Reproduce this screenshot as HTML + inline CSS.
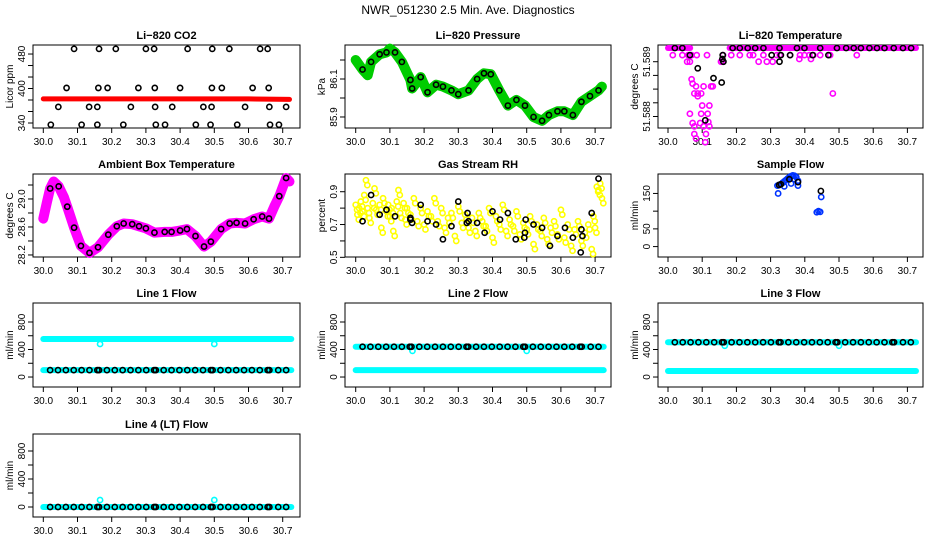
<!DOCTYPE html>
<html><head><meta charset="utf-8">
<style>
body{margin:0;background:#fff;width:936px;height:540px;overflow:hidden}
svg{display:block;font-family:"Liberation Sans",sans-serif}
</style></head>
<body>
<svg id="c" width="936" height="540" xmlns="http://www.w3.org/2000/svg">
<text x="468" y="14" text-anchor="middle" font-size="12">NWR_051230  2.5 Min. Ave. Diagnostics</text>
</svg>
<script>
// ---- data ----
const xTicks=[30.0,30.1,30.2,30.3,30.4,30.5,30.6,30.7];
const co2RedX=[30.0,30.2,30.4,30.6,30.72];
const co2RedY=[382,382,382,382,381];
const co2BlackX=[30.09,30.163,30.212,30.30,30.324,30.422,30.494,30.544,30.634,30.656,30.068,30.161,30.188,30.278,30.326,30.40,30.493,30.522,30.612,30.659,30.044,30.134,30.158,30.256,30.327,30.377,30.468,30.492,30.59,30.661,30.71,30.022,30.112,30.158,30.234,30.329,30.356,30.446,30.489,30.567,30.663,30.689];
const co2BlackY=[469,469,469,469,469,469,469,469,469,469,401,401,401,401,401,401,401,401,401,401,368,368,368,368,368,368,368,368,368,368,368,337,337,337,337,337,337,337,337,337,337,337];
const presX=[30.0,30.02,30.035,30.045,30.07,30.09,30.1,30.115,30.135,30.16,30.165,30.19,30.21,30.235,30.255,30.28,30.3,30.33,30.355,30.375,30.395,30.42,30.445,30.47,30.495,30.52,30.545,30.565,30.59,30.61,30.635,30.66,30.685,30.71,30.72];
const presY=[86.2,86.15,86.12,86.19,86.23,86.24,86.26,86.24,86.19,86.095,86.05,86.11,86.03,86.07,86.06,86.04,86.02,86.04,86.1,86.13,86.125,86.04,85.96,85.99,85.96,85.9,85.88,85.91,85.93,85.93,85.91,85.98,86.01,86.04,86.06];
const presBlackIdx=[1,3,4,5,7,8,9,10,11,12,13,14,15,16,17,18,19,20,21,22,23,24,25,26,27,28,29,30,31,32,33];
const tempTopX1=[30.0,30.065];const tempTopX2=[30.18,30.725];
const tempTopY=51.58925;
const tempMagX=[30.014,30.059,30.069,30.084,30.114,30.161,30.185,30.21,30.239,30.249,30.279,30.318,30.327,30.357,30.386,30.425,30.445,30.474,30.552,30.042,30.056,30.064,30.072,30.069,30.077,30.082,30.087,30.064,30.072,30.077,30.097,30.094,30.104,30.1,30.097,30.116,30.118,30.121,30.077,30.082,30.111,30.109,30.087,30.104,30.126,30.131,30.121,30.155,30.16,30.265,30.289,30.306,30.384,30.399,30.413,30.418,30.482];
const tempMagY=[51.58912,51.58912,51.58912,51.58912,51.58912,51.58912,51.58912,51.58912,51.58912,51.58912,51.58912,51.58912,51.58912,51.58912,51.58912,51.58912,51.58912,51.58912,51.58912,51.58912,51.589,51.589,51.5886,51.58868,51.58842,51.58855,51.58837,51.58805,51.58788,51.58782,51.58805,51.58788,51.58782,51.5882,51.58842,51.58805,51.5879,51.58782,51.58768,51.58760,51.58768,51.58753,51.58842,51.58855,51.58855,51.58855,51.5882,51.589,51.589,51.589,51.589,51.589,51.58905,51.58912,51.58912,51.58905,51.58842];
const tempBlackX=[30.02,30.042,30.189,30.21,30.233,30.255,30.279,30.326,30.377,30.399,30.445,30.494,30.521,30.543,30.564,30.589,30.611,30.633,30.66,30.687,30.711,30.064,30.16,30.303,30.33,30.357,30.423,30.469,30.087,30.133,30.109,30.159,30.162,30.157,30.326];
const tempBlackY=[51.58925,51.58925,51.58925,51.58925,51.58925,51.58925,51.58925,51.58925,51.58925,51.58925,51.58925,51.58925,51.58925,51.58925,51.58925,51.58925,51.58925,51.58925,51.58925,51.58925,51.58925,51.58912,51.58912,51.58912,51.58912,51.58912,51.58912,51.58912,51.58888,51.5887,51.58793,51.58905,51.589,51.58862,51.589];
const ambX=[30.0,30.01,30.02,30.03,30.045,30.06,30.07,30.09,30.11,30.135,30.16,30.19,30.215,30.235,30.26,30.28,30.3,30.325,30.355,30.375,30.4,30.42,30.445,30.47,30.49,30.52,30.545,30.565,30.59,30.615,30.64,30.66,30.675,30.69,30.71,30.72];
const ambY=[28.72,28.94,29.15,29.25,29.18,29.03,28.89,28.59,28.33,28.23,28.31,28.49,28.61,28.65,28.64,28.61,28.58,28.52,28.53,28.53,28.55,28.57,28.47,28.32,28.39,28.57,28.65,28.66,28.65,28.71,28.75,28.72,28.89,29.04,29.3,29.25];
const ambBlackIdx=[2,4,6,7,8,9,10,11,12,13,14,15,16,17,18,19,20,21,22,23,24,25,26,27,28,29,30,31,33,34];
const rhYelX=[30.0,30.005,30.01,30.015,30.02,30.025,30.03,30.035,30.04,30.05,30.055,30.06,30.07,30.075,30.08,30.09,30.095,30.1,30.105,30.11,30.12,30.125,30.13,30.14,30.145,30.15,30.16,30.17,30.18,30.19,30.2,30.21,30.22,30.23,30.24,30.25,30.26,30.27,30.28,30.29,30.3,30.31,30.32,30.33,30.34,30.35,30.36,30.37,30.38,30.39,30.4,30.41,30.42,30.43,30.44,30.45,30.46,30.47,30.48,30.49,30.5,30.51,30.52,30.53,30.54,30.55,30.56,30.57,30.58,30.59,30.6,30.61,30.62,30.63,30.64,30.65,30.66,30.67,30.68,30.69,30.695,30.7,30.705,30.71,30.715,30.72];
const rhYelY=[0.82,0.76,0.8,0.84,0.78,0.88,0.97,0.8,0.74,0.83,0.92,0.79,0.82,0.68,0.86,0.78,0.82,0.75,0.8,0.66,0.84,0.91,0.77,0.83,0.73,0.8,0.76,0.86,0.72,0.8,0.7,0.78,0.75,0.86,0.72,0.8,0.68,0.74,0.77,0.63,0.81,0.71,0.76,0.68,0.74,0.66,0.77,0.72,0.69,0.8,0.62,0.75,0.7,0.82,0.66,0.73,0.69,0.78,0.64,0.71,0.67,0.75,0.58,0.7,0.66,0.74,0.61,0.68,0.72,0.64,0.79,0.62,0.7,0.57,0.67,0.72,0.6,0.65,0.7,0.55,0.75,0.68,0.93,0.91,0.95,0.86];
const rhBlackX=[30.02,30.045,30.07,30.09,30.115,30.16,30.16,30.165,30.19,30.21,30.235,30.255,30.28,30.3,30.325,30.327,30.33,30.355,30.377,30.4,30.422,30.445,30.468,30.493,30.495,30.497,30.52,30.545,30.568,30.59,30.612,30.635,30.658,30.66,30.663,30.69,30.71];
const rhBlackY=[0.72,0.88,0.76,0.79,0.75,0.74,0.73,0.71,0.82,0.72,0.70,0.61,0.69,0.84,0.71,0.77,0.72,0.71,0.65,0.78,0.73,0.77,0.61,0.62,0.65,0.73,0.70,0.68,0.57,0.63,0.68,0.62,0.53,0.67,0.63,0.77,0.98];
const sfBlueX=[30.32,30.325,30.33,30.335,30.34,30.345,30.35,30.355,30.36,30.365,30.37,30.375,30.38,30.34,30.36,30.37,30.38,30.322,30.435,30.44,30.445,30.448];
const sfBlueY=[172,174,176,180,184,188,192,196,199,201,200,196,186,170,178,190,172,150,97,100,98,140];
const sfBlackX=[30.325,30.33,30.355,30.38,30.447];
const sfBlackY=[174,176,190,182,157];
const flowBlackX=[30.02,30.043,30.066,30.089,30.112,30.135,30.158,30.163,30.186,30.209,30.232,30.255,30.278,30.301,30.324,30.329,30.352,30.375,30.398,30.421,30.444,30.467,30.49,30.495,30.518,30.541,30.564,30.587,30.61,30.633,30.656,30.661,30.687,30.71];
const line1Hi=553, line1Lo=100, line1Black=100;
const line2Hi=440, line2Lo=100, line2Black=440;
const line3Hi=505, line3Lo=87, line3Black=505;
const line4Lo=0, line4Black=0;
const spikeX=[30.166,30.5];
const line1Spike=[480,480], line2Spike=[380,380], line3Spike=[455,455], line4Spike=[100,100];

// ---- layout ----
const NS="http://www.w3.org/2000/svg";
const svg=document.getElementById('c');
const colL=[33,345,658], colR=[300,611,923], colX0=[43.3,355.7,668], XS=342;
const rowT=[45,174,303,434], rowB=[128,257,387,517];
function mk(tag,attrs,parent){const e=document.createElementNS(NS,tag);for(const k in attrs)e.setAttribute(k,attrs[k]);(parent||svg).appendChild(e);return e;}

function panel(p){
  const g=mk('g',{});
  
  
  const L=colL[p.c],R=colR[p.c],T=rowT[p.r],B=rowB[p.r];
  const sx=v=>colX0[p.c]+(v-30)*XS;
  const sy=v=>B-(v-p.y0)/(p.y1-p.y0)*(B-T);
  p.sx=sx;p.sy=sy;p.g=g;
  const box=mk('rect',{x:L,y:T,width:R-L,height:B-T,fill:'none',stroke:'#000','stroke-width':1},g);
  
  
  const t=mk('text',{x:(L+R)/2,y:T-6,'text-anchor':'middle','font-size':11,'font-weight':'bold'},g);
  t.textContent=p.title;
  
  
  xTicks.forEach(v=>{
    mk('line',{x1:sx(v),x2:sx(v),y1:B,y2:B+5,stroke:'#000'},g);
    const tl=mk('text',{x:sx(v),y:B+17,'text-anchor':'middle','font-size':10},g);
    tl.textContent=v.toFixed(1);
    
    
  });
  p.ticks.forEach(v=>mk('line',{x1:L,x2:L-5,y1:sy(v),y2:sy(v),stroke:'#000'},g));
  p.labels.forEach((lab,i)=>{
    const y=sy(p.labelVals[i]);
    const tl=mk('text',{x:L-8,y:y,'text-anchor':'middle','font-size':10,transform:`rotate(-90 ${L-8} ${y})`},g);
    tl.textContent=lab;
    
    
  });
  const yl=mk('text',{x:L-20,y:(T+B)/2,'text-anchor':'middle','font-size':10,transform:`rotate(-90 ${L-20} ${(T+B)/2})`},g);
  yl.textContent=p.ylab;
  
  
  return p;
}
function pts(p,xs,ys,color,name,r){
  xs.forEach((x,i)=>{
    const c=mk('circle',{cx:p.sx(x),cy:p.sy(ys[i]),r:r||2.6,fill:'none',stroke:color,'stroke-width':1.6},p.g);
    
    
  });
}
function band(p,xs,ys,color,w,name){
  const d=xs.map((x,i)=>(i?'L':'M')+p.sx(x).toFixed(1)+' '+p.sy(ys[i]).toFixed(1)).join(' ');
  const e=mk('path',{d:d,fill:'none',stroke:color,'stroke-width':w,'stroke-linejoin':'round','stroke-linecap':'round'},p.g);
  
  
}
const CY='#00ffff';

// CO2
let p=panel({name:'co2-panel',c:0,r:0,y0:331.3,y1:475.7,title:'Li−820 CO2',ylab:'Licor ppm',ticks:[340,360,380,400,420,440,460],labels:['340','400','480'],labelVals:[340,400,460]});
band(p,co2RedX,co2RedY,'#ff0000',5,'co2-series');
pts(p,co2BlackX,co2BlackY,'#000','co2-point');

// Pressure
p=panel({name:'pressure-panel',c:1,r:0,y0:85.842,y1:86.279,title:'Li−820 Pressure',ylab:'kPa',ticks:[85.9,86.0,86.1,86.2],labels:['85.9','86.1'],labelVals:[85.9,86.1]});
band(p,presX,presY,'#00cc00',10,'pressure-series');
pts(p,presBlackIdx.map(i=>presX[i]),presBlackIdx.map(i=>presY[i]),'#000','pressure-point');

// Li-820 temperature
p=panel({name:'li820-temp-panel',c:2,r:0,y0:51.58779,y1:51.589305,title:'Li−820 Temperature',ylab:'degrees C',ticks:[51.588,51.58825,51.5885,51.58875,51.589],labels:['51.588','51.589'],labelVals:[51.588,51.589]});
band(p,tempTopX1,[tempTopY,tempTopY],'#ff00ff',6,'temp-series-top');
band(p,tempTopX2,[tempTopY,tempTopY],'#ff00ff',6,'temp-series-top');
pts(p,tempMagX,tempMagY,'#ff00ff','temp-point');
pts(p,tempBlackX,tempBlackY,'#000','temp-avg-point');

// Ambient box temp
p=panel({name:'ambient-temp-panel',c:0,r:1,y0:28.171,y1:29.357,title:'Ambient Box Temperature',ylab:'degrees C',ticks:[28.2,28.4,28.6,28.8,29.0,29.2],labels:['28.2','28.6','29.0'],labelVals:[28.2,28.6,29.0]});
band(p,ambX,ambY,'#ff00ff',10,'ambient-series');
pts(p,ambBlackIdx.map(i=>ambX[i]),ambBlackIdx.map(i=>ambY[i]),'#000','ambient-point');

// RH
p=panel({name:'rh-panel',c:1,r:1,y0:0.502,y1:1.008,title:'Gas Stream RH',ylab:'percent',ticks:[0.5,0.6,0.7,0.8,0.9],labels:['0.5','0.7','0.9'],labelVals:[0.5,0.7,0.9]});
pts(p,rhYelX,rhYelY,'#ffff00','rh-point');
pts(p,rhYelX.map(x=>x+0.004),rhYelY.map(y=>y-0.03),'#ffff00','rh-point');
pts(p,rhBlackX,rhBlackY,'#000','rh-avg-point');

// Sample flow
p=panel({name:'sample-flow-panel',c:2,r:1,y0:-29.4,y1:204.9,title:'Sample Flow',ylab:'ml/min',ticks:[0,50,100,150],labels:['0','50','150'],labelVals:[0,50,150]});
pts(p,sfBlueX,sfBlueY,'#0033ff','sample-flow-point');
pts(p,sfBlackX,sfBlackY,'#000','sample-flow-avg-point');

// Line flows
function flow(name,title,c,r,y0,y1,hi,lo,blk,spk){
  const q=panel({name:name,c:c,r:r,y0:y0,y1:y1,title:title,ylab:'ml/min',ticks:[0,200,400,600,800],labels:['0','400','800'],labelVals:[0,400,800]});
  if(hi!==null) band(q,[30.0,30.725],[hi,hi],CY,6,'flow-high-series');
  band(q,[30.0,30.725],[lo,lo],CY,6,'flow-low-series');
  pts(q,spikeX,spk,CY,'flow-spike-point');
  pts(q,flowBlackX,flowBlackX.map(()=>blk),'#000','flow-avg-point');
}
flow('line1-flow-panel','Line 1 Flow',0,2,-145,1076,line1Hi,line1Lo,line1Black,line1Spike);
flow('line2-flow-panel','Line 2 Flow',1,2,-145,1076,line2Hi,line2Lo,line2Black,line2Spike);
flow('line3-flow-panel','Line 3 Flow',2,2,-145,1076,line3Hi,line3Lo,line3Black,line3Spike);
flow('line4-flow-panel','Line 4 (LT) Flow',0,3,-143,1043,null,line4Lo,line4Black,line4Spike);
</script>
</body></html>
